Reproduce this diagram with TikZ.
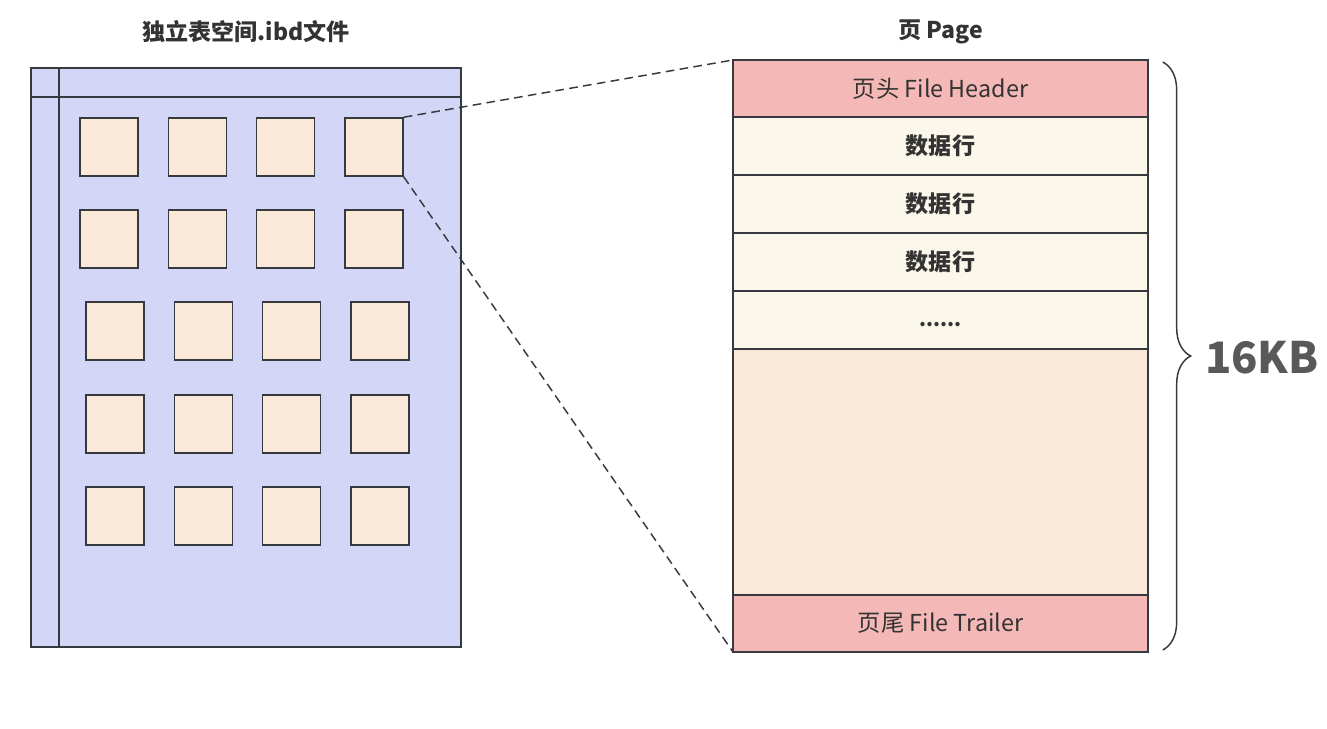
\documentclass[tikz,border=0pt]{standalone}
\usepackage{fontspec}
\setmainfont{Noto Sans CJK SC}
\usepackage{tikz}
\usetikzlibrary{positioning, decorations.pathreplacing}
\definecolor{fileblue}{HTML}{D3D6F7}
\definecolor{blockpeach}{HTML}{FAE8D8}
\definecolor{headpink}{HTML}{F4B8B6}
\definecolor{rowcream}{HTML}{FBF7EA}
\definecolor{edgegray}{HTML}{36393D}
\definecolor{inkgray}{HTML}{333333}
\definecolor{sizegray}{HTML}{595959}

\begin{document}
\begin{tikzpicture}[
  x=0.75pt, y=-0.75pt,
  node distance=0pt,
  title/.style={font=\fontsize{17.3}{20}\selectfont\bfseries, text=inkgray},
  filebox/.style={draw=edgegray, line width=1.2pt, fill=fileblue,
                  minimum width=322.5pt, minimum height=434.25pt, outer sep=0pt},
  blk/.style={draw=edgegray, line width=1.2pt, fill=blockpeach,
              minimum size=43.5pt, inner sep=0pt},
  row/.style={draw=edgegray, line width=1.2pt, minimum width=311.25pt,
              minimum height=43.5pt, inner sep=0pt, outer sep=0pt,
              text=inkgray, font=\fontsize{17.5}{20}\selectfont},
  edge/.style={row, fill=headpink, minimum height=42.75pt},
  datarow/.style={row, fill=rowcream, font=\fontsize{17.3}{20}\selectfont\bfseries},
  link/.style={draw=edgegray, line width=1.1pt, dash pattern=on 6.5pt off 4pt},
  brace/.style={draw=edgegray, line width=1.1pt,
                decorate, decoration={brace, amplitude=21pt}}
]
\useasboundingbox (0,0) rectangle (1327,728);

% tablespace file
\node[filebox] (ibd) at (246,357.5) {};
\draw[edgegray, line width=1.2pt] ([xshift=21pt]ibd.north west) -- ([xshift=21pt]ibd.south west);
\draw[edgegray, line width=1.2pt] ([yshift=-21.75pt]ibd.north west) -- ([yshift=-21.75pt]ibd.north east);
\node[title] (ibdtitle) at (246,32) {独立表空间.ibd文件};

\foreach \r/\y/\dx in {1/147/0, 2/239/0, 3/331/6, 4/424/6, 5/516/6}
  \foreach \c in {1,...,4}
    \node[blk] (b\r\c) at ({109+\dx+(\c-1)*88.3},\y) {};

% page
\node[edge] (hdr) at (940.5,88.5) {页头 File Header};
\node[datarow, below=of hdr] (r1) {数据行};
\node[datarow, below=of r1] (r2) {数据行};
\node[datarow, below=of r2] (r3) {数据行};
\node[datarow, font=\fontsize{15}{18}\selectfont\bfseries, below=of r3] (r4) {\raisebox{-4.5pt}[0pt][0pt]{......}};
\node[row, fill=blockpeach, minimum height=184.5pt, below=of r4] (free) {};
\node[edge, below=of free] (trl) {页尾 File Trailer};
\node[title] (pagetitle) at (940.5,32) {页 Page};

\draw[link] (b14.north east) -- (hdr.north west);
\draw[link] (b14.south east) -- (trl.south west);

\draw[brace] ([xshift=11pt,yshift=-1.5pt]hdr.north east) -- ([xshift=11pt,yshift=1.5pt]trl.south east)
  node[midway, anchor=west, xshift=28pt, yshift=-1pt, text=sizegray,
       font=\fontsize{32.5}{38}\selectfont\bfseries] (size) {16KB};
\end{tikzpicture}
\end{document}
